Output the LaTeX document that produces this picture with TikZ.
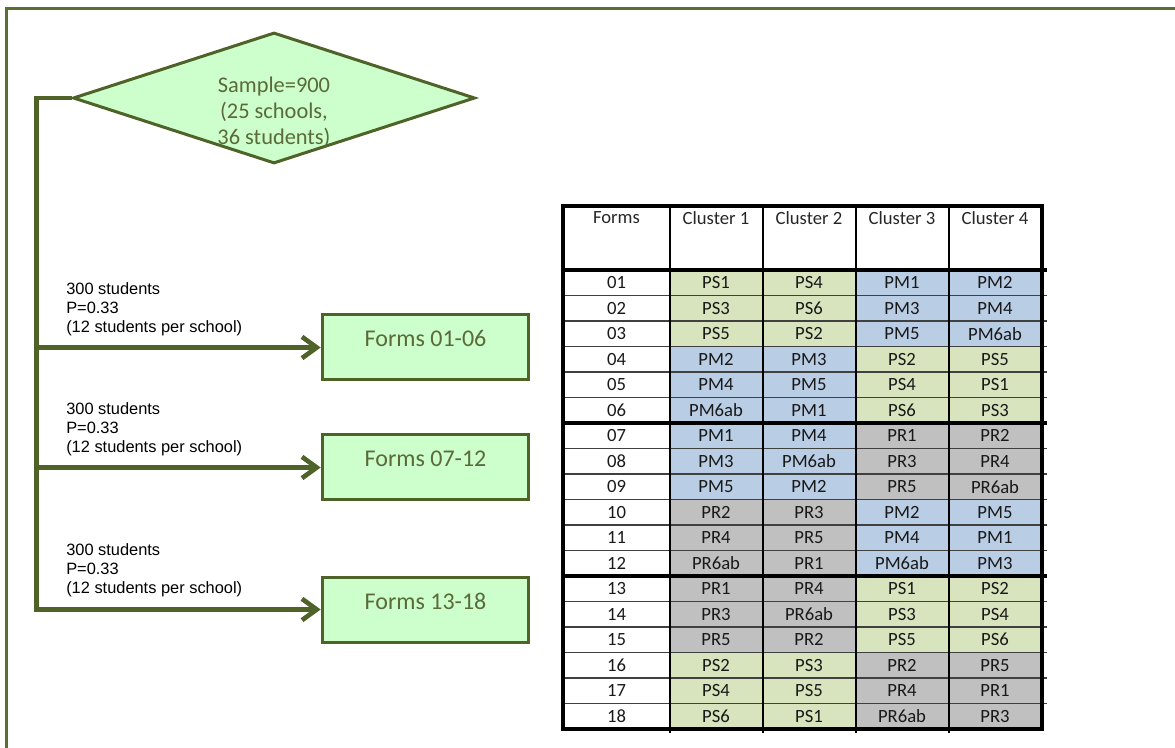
\documentclass[tikz,border=0pt]{standalone}
\usepackage{fontspec}
\setmainfont{Carlito}
\newfontfamily\arialfont{Liberation Sans}
\usetikzlibrary{shapes.geometric,arrows.meta}

\definecolor{olivedark}{HTML}{4F6228}
\definecolor{oliveframe}{HTML}{5A7032}
\definecolor{mintfill}{HTML}{CCFFCC}
\definecolor{olivetext}{HTML}{5A6A38}
\definecolor{cPS}{HTML}{D7E4BD}
\definecolor{cPM}{HTML}{B9CDE5}
\definecolor{cPR}{HTML}{C0C0C0}
\def\pre#1#2#3\relax{c#1#2}

\tikzset{
  conn/.style={draw=olivedark, line width=3.5pt, -{Straight Barb[length=11pt,width=16pt]}},
  formbox/.style={draw=olivedark, line width=2.25pt, fill=mintfill, minimum width=155pt,
    inner xsep=0pt, inner ysep=0pt, text height=24pt, text depth=24.75pt, text=olivetext,
    font=\fontsize{18}{21}\selectfont},
  note/.style={anchor=north west, inner sep=0pt, align=left, font=\arialfont\fontsize{12.3}{14.25}\selectfont},
  cell/.style={minimum width=69.75pt, minimum height=19.125pt, inner sep=0pt, text=black!90,
    font=\fontsize{14}{16}\selectfont},
  hd/.style={inner sep=0pt, text=black!85, font=\fontsize{14}{16}\selectfont},
  rowline/.style={draw=black!75, line width=1.2pt},
  colline/.style={draw=black, line width=1.1pt},
  thickline/.style={draw=black, line width=2.4pt}
}

\begin{document}
\begin{tikzpicture}[x=0.75pt, y=-0.75pt]
  \useasboundingbox (0,0) rectangle (1175,748);
  \draw[oliveframe, line width=2.25pt] (6,748) -- (6,9) -- (1175,9);

  \node[draw=olivedark, line width=2.25pt, fill=mintfill, diamond, aspect=3,
    minimum width=301.5pt, minimum height=98.25pt, inner sep=0pt] (sample) at (274,98) {};
  \node[align=center, inner sep=0pt, text=olivetext, font=\fontsize{16.8}{19.5}\selectfont]
    (sampletext) at (274,112) {Sample=900\\(25 schools,\\36 students)};

  \node[formbox] (forms1) at (425.5,347.5) {Forms 01-06};
  \node[formbox] (forms2) at (425.5,467.5) {Forms 07-12};
  \node[formbox] (forms3) at (425.5,609.5) {Forms 13-18};

  \draw[conn] (sample.west) -- ++(-35,0) coordinate (trunk) |- (forms3.west);
  \draw[conn] (trunk |- forms1.west) -- (forms1.west);
  \draw[conn] (trunk |- forms2.west) -- (forms2.west);

  \node[note] (note1) at (66,282) {300 students\\P=0.33\\(12 students per school)};
  \node[note] (note2) at (66,402) {300 students\\P=0.33\\(12 students per school)};
  \node[note] (note3) at (66,543) {300 students\\P=0.33\\(12 students per school)};

  \foreach \x/\t [count=\k] in {616.5/Forms, 716/Cluster 1, 809/Cluster 2, 902/Cluster 3, 995/Cluster 4}
    \node[hd] (hd\k) at (\x,218) {\t};

  \foreach \a/\b/\c/\d [count=\i] in {PS1/PS4/PM1/PM2, PS3/PS6/PM3/PM4, PS5/PS2/PM5/PM6ab,
      PM2/PM3/PS2/PS5, PM4/PM5/PS4/PS1, PM6ab/PM1/PS6/PS3,
      PM1/PM4/PR1/PR2, PM3/PM6ab/PR3/PR4, PM5/PM2/PR5/PR6ab,
      PR2/PR3/PM2/PM5, PR4/PR5/PM4/PM1, PR6ab/PR1/PM6ab/PM3,
      PR1/PR4/PS1/PS2, PR3/PR6ab/PS3/PS4, PR5/PR2/PS5/PS6,
      PS2/PS3/PR2/PR5, PS4/PS5/PR4/PR1, PS6/PS1/PR6ab/PR3} {
    \node[cell] (r\i) at (616.5,{270+25.5*(\i-0.5)}) {\ifnum\i<10 0\fi\i};
    \foreach \e [count=\j] in {\a,\b,\c,\d} {
      \edef\ee{\e}
      \edef\cc{\expandafter\pre\ee\relax}
      \node[cell, fill=\cc] (c\i-\j) at ({623+93*\j},{270+25.5*(\i-0.5)}) {\ee};
    }
  }

  \foreach \k in {1,...,17}
    \draw[rowline] (563,{270+25.5*\k}) -- (1047,{270+25.5*\k});
  \foreach \xx in {670,763,856,949}
    \draw[colline] (\xx,206) -- (\xx,733);
  \foreach \yy in {270,423,576}
    \draw[thickline] (563,\yy) -- (1047,\yy);
  \draw[thickline] (563,206) rectangle (1042,729);
\end{tikzpicture}
\end{document}
